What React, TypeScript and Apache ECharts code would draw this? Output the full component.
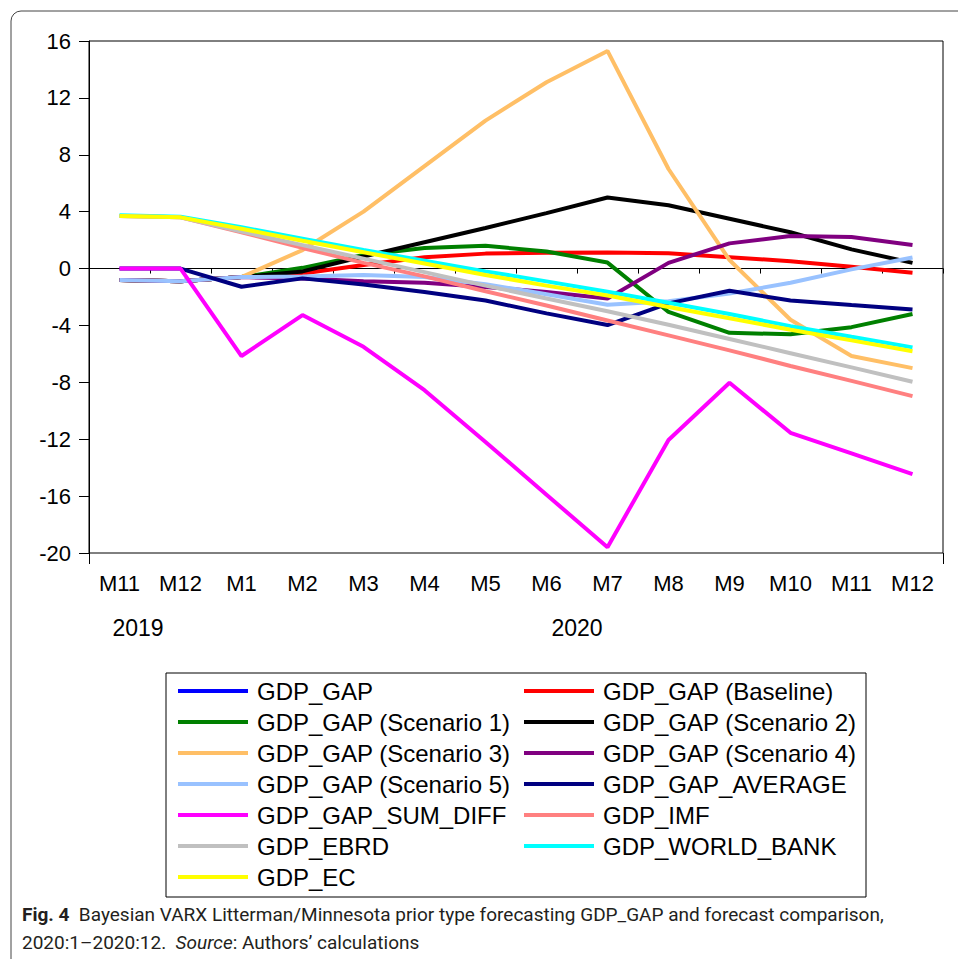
import React, { useEffect, useRef } from "react";
import * as echarts from "echarts";

const categories = [
  "2019M11", "2019M12", "2020M01", "2020M02", "2020M03", "2020M04", "2020M05",
  "2020M06", "2020M07", "2020M08", "2020M09", "2020M10", "2020M11", "2020M12",
];
const yearLabels = ["2019", "2020"];

const gdpGap = [-0.8, -0.9, -0.6, null, null, null, null, null, null, null, null, null, null, null];
const baseline = [-0.8, -0.9, -0.6, -0.35, 0.25, 0.8, 1.05, 1.12, 1.13, 1.07, 0.8, 0.52, 0.13, -0.3];
const scenario1 = [-0.8, -0.9, -0.6, 0.05, 0.95, 1.45, 1.6, 1.2, 0.42, -3.05, -4.52, -4.62, -4.12, -3.2];
const scenario2 = [-0.8, -0.9, -0.6, -0.2, 0.85, 1.85, 2.85, 3.9, 5.0, 4.45, 3.5, 2.55, 1.35, 0.4];
const scenario3 = [-0.8, -0.9, -0.6, 1.3, 4.0, 7.2, 10.4, 13.1, 15.3, 7.0, 0.6, -3.6, -6.15, -7.0];
const scenario4 = [-0.8, -0.9, -0.6, -0.7, -0.9, -1.0, -1.3, -1.65, -2.1, 0.4, 1.77, 2.29, 2.22, 1.65];
const scenario5 = [-0.8, -0.9, -0.6, -0.55, -0.45, -0.6, -1.1, -1.8, -2.55, -2.3, -1.75, -1.0, -0.06, 0.78];
const average = [0, 0, -1.28, -0.69, -1.12, -1.65, -2.25, -3.15, -3.97, -2.45, -1.56, -2.25, -2.57, -2.88];
const sumDiff = [0, 0, -6.15, -3.27, -5.5, -8.55, -12.2, -15.9, -19.6, -12.05, -8.03, -11.55, -13.0, -14.45];
const imf = [3.7, 3.6, 2.55, 1.45, 0.4, -0.55, -1.6, -2.6, -3.65, -4.7, -5.75, -6.85, -7.9, -8.97];
const worldBank = [3.75, 3.65, 2.9, 2.1, 1.3, 0.55, -0.2, -0.9, -1.63, -2.4, -3.2, -4.05, -4.8, -5.54];
const ebrd = [3.7, 3.6, 2.6, 1.65, 0.7, -0.25, -1.2, -2.1, -3.0, -3.95, -4.95, -5.95, -6.95, -7.96];
const ec = [3.7, 3.6, 2.8, 1.95, 1.15, 0.35, -0.45, -1.2, -1.9, -2.7, -3.5, -4.3, -5.05, -5.82];

const seriesDefs = [
  { name: "GDP_GAP", data: gdpGap, color: "#0000FF" },
  { name: "GDP_GAP (Baseline)", data: baseline, color: "#FF0000" },
  { name: "GDP_GAP (Scenario 1)", data: scenario1, color: "#008000" },
  { name: "GDP_GAP (Scenario 2)", data: scenario2, color: "#000000" },
  { name: "GDP_GAP (Scenario 3)", data: scenario3, color: "#FFBF66" },
  { name: "GDP_GAP (Scenario 4)", data: scenario4, color: "#800080" },
  { name: "GDP_GAP (Scenario 5)", data: scenario5, color: "#99C2FF" },
  { name: "GDP_GAP_AVERAGE", data: average, color: "#000080" },
  { name: "GDP_GAP_SUM_DIFF", data: sumDiff, color: "#FF00FF" },
  { name: "GDP_IMF", data: imf, color: "#FF8080" },
  { name: "GDP_WORLD_BANK", data: worldBank, color: "#00FFFF" },
  { name: "GDP_EBRD", data: ebrd, color: "#C0C0C0" },
  { name: "GDP_EC", data: ec, color: "#FFFF00" },
];

const legendLeft = [
  "GDP_GAP", "GDP_GAP (Scenario 1)", "GDP_GAP (Scenario 3)", "GDP_GAP (Scenario 5)",
  "GDP_GAP_SUM_DIFF", "GDP_EBRD", "GDP_EC",
];
const legendRight = [
  "GDP_GAP (Baseline)", "GDP_GAP (Scenario 2)", "GDP_GAP (Scenario 4)", "GDP_GAP_AVERAGE",
  "GDP_IMF", "GDP_WORLD_BANK",
];

const FONT = "'Liberation Sans', Arial, sans-serif";
const CAP_FONT = "Roboto, 'Liberation Sans', sans-serif";

export default function App() {
  const ref = useRef<HTMLDivElement>(null);
  useEffect(() => {
    if (!ref.current) return;
    const chart = echarts.init(ref.current, null, { renderer: "svg" });
    const legendCommon = {
      orient: "vertical",
      top: 679,
      itemWidth: 70,
      itemHeight: 4,
      icon: "rect",
      itemGap: 7,
      padding: 0,
      selectedMode: false,
      textStyle: { fontSize: 24, lineHeight: 23, fontFamily: FONT, color: "#000", padding: [0, 0, 0, 4] },
    };
    chart.setOption({
      animation: false,
      backgroundColor: "#fff",
      grid: { left: 89, top: 41, right: 15, bottom: 406, show: true, borderColor: "#000", borderWidth: 1 },
      xAxis: [
        {
          type: "category",
          data: categories,
          boundaryGap: true,
          axisLine: { lineStyle: { color: "#000", width: 1 } },
          axisTick: { show: true, length: 5, interval: 0, lineStyle: { color: "#000" } },
          axisLabel: {
            interval: 0,
            fontSize: 22,
            fontFamily: FONT,
            color: "#000",
            margin: 19,
            formatter: (v: string) => "M" + parseInt(v.slice(5), 10),
          },
          splitLine: { show: false },
        },
        {
          type: "category",
          data: categories,
          position: "bottom",
          boundaryGap: true,
          axisLine: { show: false },
          axisTick: { show: true, length: 11, interval: (i: number) => i === 2, lineStyle: { color: "#000" } },
          axisLabel: { show: false },
          splitLine: { show: false },
        },
      ],
      yAxis: {
        type: "value",
        min: -20,
        max: 16,
        interval: 4,
        axisLine: { show: true, lineStyle: { color: "#000" } },
        axisTick: { show: true, length: 10, lineStyle: { color: "#000" } },
        axisLabel: { fontSize: 22, fontFamily: FONT, color: "#000", margin: 18 },
        splitLine: { show: false },
      },
      legend: [
        { ...legendCommon, left: 178, data: legendLeft },
        { ...legendCommon, left: 524, data: legendRight },
      ],
      series: seriesDefs.map((s) => ({
        type: "line",
        name: s.name,
        data: s.data,
        symbol: "none",
        color: s.color,
        lineStyle: { width: 4, color: s.color },
        connectNulls: false,
      })),
      graphic: [
        {
          type: "rect",
          silent: true,
          shape: { x: 11, y: 11, width: 1100, height: 1100, r: 10 },
          style: { fill: "none", stroke: "#444", lineWidth: 1 },
        },
        {
          type: "rect",
          silent: true,
          shape: { x: 166, y: 673, width: 700, height: 224 },
          style: { fill: "none", stroke: "#000", lineWidth: 1 },
        },
        {
          type: "text",
          x: 138,
          y: 628,
          style: {
            text: yearLabels[0], fontSize: 23, fontFamily: FONT, fill: "#000",
            align: "center", verticalAlign: "middle", textAlign: "center", textVerticalAlign: "middle",
          },
        },
        {
          type: "text",
          x: 577,
          y: 628,
          style: {
            text: yearLabels[1], fontSize: 23, fontFamily: FONT, fill: "#000",
            align: "center", verticalAlign: "middle", textAlign: "center", textVerticalAlign: "middle",
          },
        },
        {
          type: "text",
          x: 22,
          y: 900,
          style: {
            text:
              "{b|Fig. 4}  Bayesian VARX Litterman/Minnesota prior type forecasting GDP_GAP and forecast comparison,\n2020:1–2020:12.  {i|Source}: Authors’ calculations",
            fontSize: 19,
            fontFamily: CAP_FONT,
            lineHeight: 28,
            fill: "#231F20",
            rich: {
              b: { fontWeight: "bold", fontSize: 19, fontFamily: CAP_FONT, lineHeight: 28, fill: "#231F20" },
              i: { fontStyle: "italic", fontSize: 19, fontFamily: CAP_FONT, lineHeight: 28, fill: "#231F20" },
            },
          },
        },
      ],
    });
    return () => chart.dispose();
  }, []);
  return (
    <div
      ref={ref}
      style={{ position: "fixed", left: 0, top: 0, width: 958, height: 959, background: "#fff" }}
    />
  );
}
